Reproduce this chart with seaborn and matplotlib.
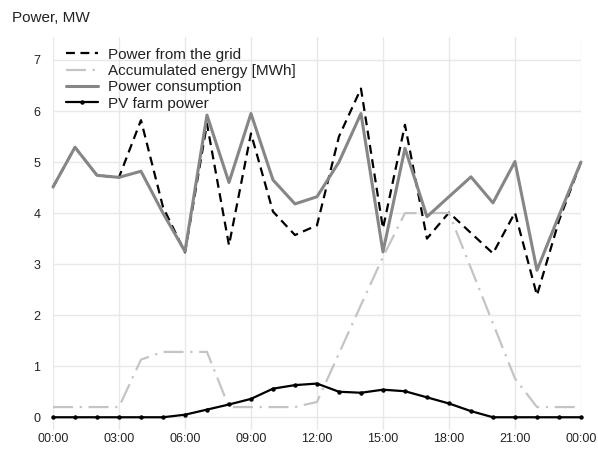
import numpy as np
import pandas as pd
import seaborn as sns
import matplotlib
matplotlib.use("Agg")
import matplotlib.pyplot as plt

# hourly values, 00:00 .. 24:00
hours = list(range(25))
grid_power = [4.51, 5.29, 4.74, 4.70, 5.82, 4.12, 3.23, 5.75, 3.37, 5.56,
              4.03, 3.57, 3.76, 5.50, 6.44, 3.70, 5.73, 3.50, 4.01, 3.61,
              3.21, 4.01, 2.39, 3.85, 5.00]
accumulated = [0.20, 0.20, 0.20, 0.20, 1.13, 1.28, 1.28, 1.28, 0.20, 0.20,
               0.20, 0.20, 0.30, 1.25, 2.20, 3.14, 4.00, 4.00, 4.00, 2.92,
               1.84, 0.76, 0.20, 0.20, 0.20]
consumption = [4.51, 5.29, 4.74, 4.70, 4.82, 4.00, 3.25, 5.92, 4.60, 5.95,
               4.65, 4.18, 4.32, 5.00, 5.95, 3.24, 5.27, 3.93, 4.32, 4.71,
               4.20, 5.01, 2.88, 3.95, 5.00]
pv_power = [0, 0, 0, 0, 0, 0, 0.05, 0.15, 0.25, 0.36, 0.56, 0.63, 0.66,
            0.50, 0.48, 0.54, 0.51, 0.39, 0.27, 0.12, 0, 0, 0, 0, 0]
tick_hours = [0, 3, 6, 9, 12, 15, 18, 21, 24]
tick_labels = ["00:00", "03:00", "06:00", "09:00", "12:00", "15:00",
               "18:00", "21:00", "00:00"]

df = pd.DataFrame({"hour": hours, "grid": grid_power, "acc": accumulated,
                   "cons": consumption, "pv": pv_power})

sns.set_theme(style="whitegrid", rc={"grid.color": "#e8e8e8",
                                     "grid.linewidth": 1.0})
plt.rcParams["font.family"] = ["Liberation Sans", "DejaVu Sans"]

fig = plt.figure(figsize=(5.98, 4.5), dpi=100)
ax = fig.add_axes([0.0886, 0.0444, 0.8829, 0.8734])

sns.lineplot(data=df, x="hour", y="grid", ax=ax, color="black", lw=1.6,
             label="Power from the grid", clip_on=False)
ax.lines[-1].set_linestyle((0, (4, 2.5)))
sns.lineplot(data=df, x="hour", y="acc", ax=ax, color="#c4c4c4", lw=1.6,
             label="Accumulated energy [MWh]", clip_on=False)
ax.lines[-1].set_linestyle((0, (9, 3, 1, 3)))
sns.lineplot(data=df, x="hour", y="cons", ax=ax, color="#868686", lw=2.2,
             label="Power consumption", clip_on=False)
sns.lineplot(data=df, x="hour", y="pv", ax=ax, color="black", lw=1.6,
             marker="o", markersize=3.2, markeredgewidth=0,
             label="PV farm power", clip_on=False)

ax.set_xlim(0, 24)
ax.set_ylim(-0.25, 7.45)
ax.set_xticks(tick_hours)
ax.set_xticklabels(tick_labels)
ax.set_yticks(range(8))
ax.tick_params(axis="both", labelsize=9, colors="#222222", length=0)
ax.tick_params(axis="x", pad=2)
ax.tick_params(axis="y", pad=9)
ax.set_xlabel("")
ax.set_ylabel("")
for s in ax.spines.values():
    s.set_visible(False)

fig.text(0.02, 0.96, "Power, MW", fontsize=11, ha="left", va="center",
         color="#222222")

leg = ax.legend(loc="upper left", frameon=False, fontsize=11,
                bbox_to_anchor=(0.005, 1.0), handlelength=2.1,
                handletextpad=0.6, labelspacing=0.15, borderaxespad=0.3)
for t in leg.get_texts():
    t.set_color("#222222")

fig.savefig("out.png", dpi=100)
